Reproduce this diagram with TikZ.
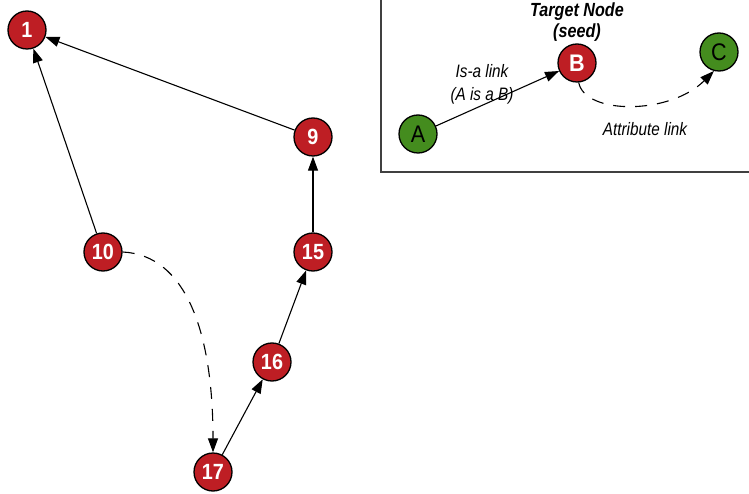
\documentclass[tikz,border=0pt]{standalone}
\usepackage{fontspec}
\setmainfont{Liberation Sans}
\newfontfamily\narrowsf[FakeStretch=0.85]{Liberation Sans}
\newfontfamily\digitsf[FakeStretch=0.9]{Liberation Sans}
\usetikzlibrary{arrows.meta}
\definecolor{nodered}{RGB}{190,30,36}
\definecolor{nodegreen}{RGB}{68,140,30}
\begin{document}
\begin{tikzpicture}[x=1pt,y=-1pt,
  vertex/.style={circle, draw=black, line width=1.3pt, minimum size=38pt, inner sep=0pt,
                 font=\digitsf\fontsize{22}{22}\selectfont\bfseries},
  seedv/.style={vertex, fill=nodered, text=white},
  leafv/.style={vertex, fill=nodegreen, text=black, font=\digitsf\fontsize{24}{24}\selectfont},
  link/.style={draw=black, line width=1.1pt, -{Triangle[length=14pt,width=10pt]}},
  attr/.style={link, dash pattern=on 12pt off 10pt},
  lbl/.style={font=\narrowsf\itshape\fontsize{18}{23}\selectfont, align=center},
  boxframe/.style={draw=black!75, line width=1.5pt}
]
\useasboundingbox (0,0) rectangle (749,494);

% legend frame
\draw[boxframe] (381,-5) rectangle (760,172);

% graph nodes
\node[seedv] (n1)  at (27,30)   {1};
\node[seedv] (n9)  at (313,137) {9};
\node[seedv] (n10) at (103,252) {10};
\node[seedv] (n15) at (313,252) {15};
\node[seedv] (n16) at (272,362) {16};
\node[seedv] (n17) at (213,472) {17};

% legend nodes
\node[leafv] (A) at (418,134) {A};
\node[seedv, font=\digitsf\fontsize{24}{24}\selectfont\bfseries] (B) at (577,63) {B};
\node[leafv] (C) at (719,52) {C};

% is-a links
\draw[link] (n10) -- (n1);
\draw[link] (n9) -- (n1);
\draw[link] (n15) -- (n9);
\draw[link] (n16) -- (n15);
\draw[link] (n17) -- (n16);
\draw[link] (A) -- (B);

% attribute links
\draw[attr] (n10.east) .. controls (185,255) and (213,330) .. (n17.north);
\draw[attr] (B.-85) .. controls (585,115) and (670,115) .. (C.-105);

% legend labels
\node[lbl, font=\narrowsf\bfseries\itshape\fontsize{19}{21}\selectfont] (tlabel) at (577,22) {Target Node\\(seed)};
\node[lbl] (isalabel) at (482,84) {Is-a link\\(A is a B)};
\node[lbl] (attrlabel) at (645,129) {Attribute link};
\end{tikzpicture}
\end{document}
